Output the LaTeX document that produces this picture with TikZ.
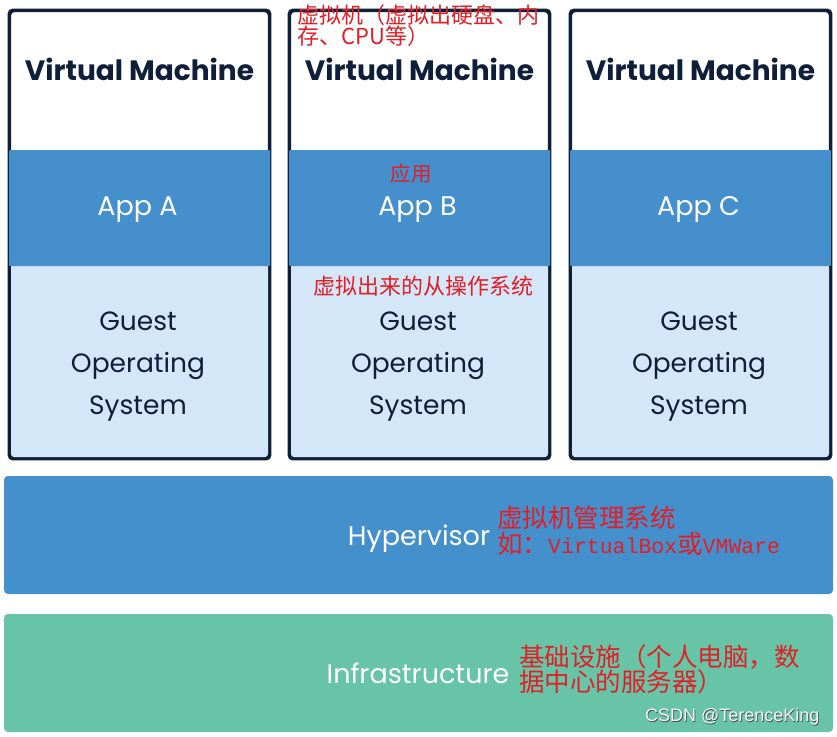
\documentclass[tikz,border=0pt]{standalone}
\usepackage{fontspec}
\setmainfont{Poppins}
\newfontfamily\cjk{Noto Sans CJK SC}
\newfontfamily\lmono{Liberation Mono}
\newfontfamily\lsans{Liberation Sans}
\definecolor{band}{HTML}{4590CC}
\definecolor{lightband}{HTML}{D3E7F8}
\definecolor{navy}{HTML}{0F1F3A}
\definecolor{hyper}{HTML}{4490CD}
\definecolor{infra}{HTML}{67C4A6}
\definecolor{note}{RGB}{226,30,38}
\tikzset{
  vmouter/.style={draw=navy, line width=2.4pt, rounded corners=4pt, fill=white, minimum width=259pt, minimum height=447pt, inner sep=0pt},
  guestfill/.style={fill=lightband, rounded corners=3pt, minimum width=257pt, minimum height=192pt, inner sep=0pt},
  appband/.style={fill=band, rounded corners=1pt, minimum width=261pt, minimum height=116pt, inner sep=0pt},
  layer/.style={rounded corners=4pt, minimum width=829pt, minimum height=118pt, inner sep=0pt},
  vmtitle/.style={text=navy, font=\fontsize{28}{30}\selectfont\bfseries},
  apptext/.style={text=white, font=\fontsize{27}{30}\selectfont},
  guesttext/.style={text=navy, align=center, font=\fontsize{26.5}{42}\selectfont},
  layertext/.style={text=white, font=\fontsize{27}{30}\selectfont},
  notetext/.style={text=note, inner sep=0pt, align=left}
}
\begin{document}
\begin{tikzpicture}[x=1pt,y=-1pt]
\useasboundingbox (0,0) rectangle (837,736);
% virtual machines
\foreach \n/\cx/\lab in {A/139.5/A, B/419.5/B, C/700.5/C}{
  \node[vmouter] (vm\n) at (\cx,234.5) {};
  \node[guestfill] (guest\n) at (\cx,361) {};
  \draw[navy, line width=2.4pt, rounded corners=4pt] (vm\n.north west) rectangle (vm\n.south east);
  \node[appband] (app\n) at (\cx,208) {};
  \node[vmtitle] (title\n) at (\cx,69) {Virtual Machine};
  \node[apptext] (apptxt\n) at ([xshift=-2pt]\cx,209.5) {App \lab};
  \node[guesttext] (gtxt\n) at ([xshift=-1.5pt]\cx,366.5) {Guest\\Operating\\System};
}
% layers
\node[layer, fill=hyper] (hyper) at (418.5,535) {};
\node[layertext] (hypertxt) at (419,538.5) {Hypervisor};
\node[layer, fill=infra] (infra) at (418.5,673) {};
\node[layertext] (infratxt) at (418,673.5) {Infrastructure};
% annotations
\node[notetext, anchor=north west, font=\fontsize{22}{20}\selectfont\cjk] (n1) at (297,4) {虚拟机（虚拟出硬盘、内\\存、CPU等）};
\node[notetext, font=\fontsize{20.5}{20}\selectfont\cjk] (n2) at (411,174) {应用};
\node[notetext, font=\fontsize{22}{22}\selectfont\cjk] (n3) at (423,286) {虚拟出来的从操作系统};
\node[notetext, anchor=north west, font=\fontsize{25.5}{26}\selectfont\cjk] (n4) at (497,506) {虚拟机管理系统\\如：{\lmono\fontsize{21.5}{26}\selectfont VirtualBox}或{\lmono\fontsize{21.5}{26}\selectfont VMWare}};
\node[notetext, anchor=north west, font=\fontsize{25.5}{25}\selectfont\cjk] (n5) at (519,644) {基础设施（个人电脑，数\\据中心的服务器）};
% watermark
\node[text=gray!60!black, font=\fontsize{18}{20}\selectfont\lsans, anchor=east] (wmshadow) at (823.8,717.8) {CSDN @TerenceKing};
\node[text=white!92!gray, font=\fontsize{18}{20}\selectfont\lsans, anchor=east] (wm) at (823,717) {CSDN @TerenceKing};
\end{tikzpicture}
\end{document}
